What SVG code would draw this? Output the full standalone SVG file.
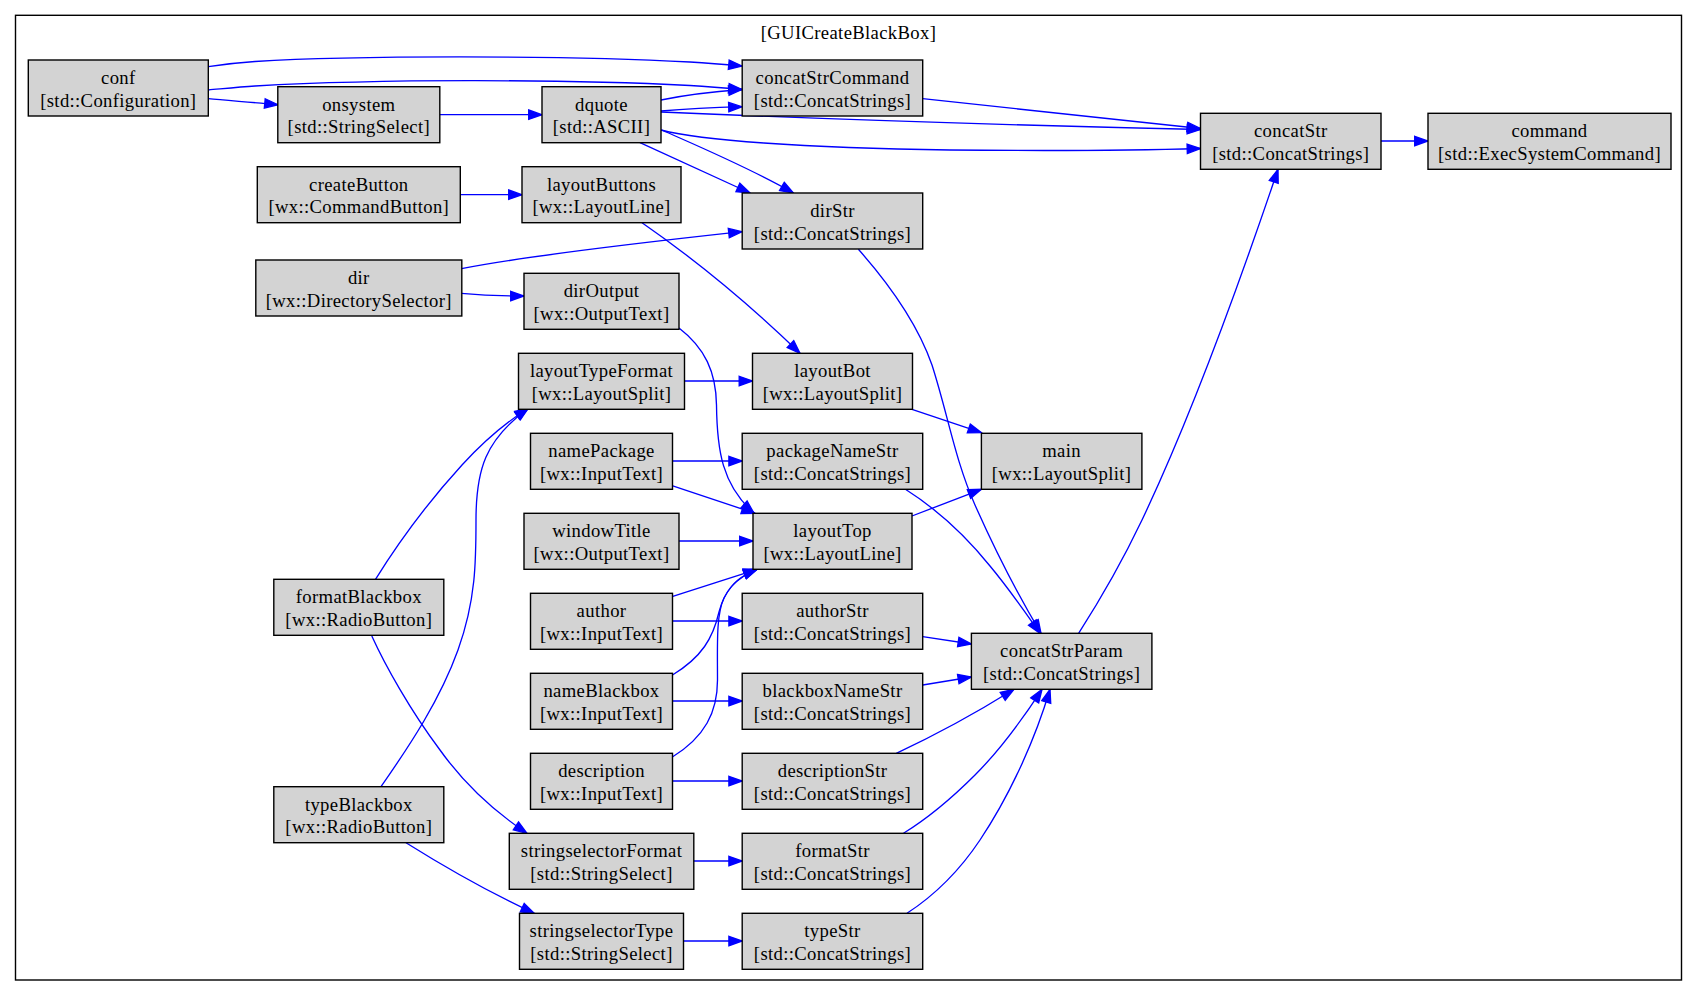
<svg xmlns="http://www.w3.org/2000/svg" width="1699" height="1007" viewBox="0 0 1699 1007">
<style>
.n rect{fill:#d3d3d3;stroke:#000;stroke-width:1.4}
text{font-family:"Liberation Serif","Times New Roman",serif;font-size:18.67px;fill:#000;text-anchor:middle;letter-spacing:0.35px}
.e path{fill:none;stroke:#0000ff;stroke-width:1.33;marker-end:url(#ah)}
</style>
<defs>
<marker id="ah" markerWidth="15" markerHeight="11" refX="13.3" refY="4.7" orient="auto" markerUnits="userSpaceOnUse" overflow="visible">
<path d="M0,0 L13.3,4.7 L0,9.4 z" fill="#0000ff" stroke="#0000ff" stroke-width="1.33"/>
</marker>
</defs>
<rect x="0" y="0" width="1699" height="1007" fill="#fff"/>
<g id="cluster">
<rect x="15.5" y="15.3" width="1666" height="964.7" fill="none" stroke="#000" stroke-width="1.4"/>
<text x="848.5" y="38.5">[GUICreateBlackBox]</text>
</g>
<g class="e" id="edges">
<path d="M208.3,66.7 C225,64 240,62.5 255,61.5 C350,55.5 560,55 690,62 C708,63 726,64.5 742,66"/>
<path d="M208.3,90 C225,88.5 240,87 255,86 C380,79 560,79 690,85.5 C708,86.5 726,88 742,89.5"/>
<path d="M208.3,98.7 C225,100.5 250,102 278,104.7"/>
<path d="M440,114.7 L542,114.7"/>
<path d="M661,100 C685,95 715,91.5 742,89.5"/>
<path d="M661,111 C685,109 715,107.5 742,106.7"/>
<path d="M661,112 C800,118 1000,125 1200.5,129.5"/>
<path d="M922.7,98.7 L1200.5,128.5"/>
<path d="M661,130 C700,140 800,148 950,150 C1050,151 1150,150 1200.5,148.5"/>
<path d="M640,142.7 L750,193"/>
<path d="M661.7,130 C700,147 750,168 793.4,193"/>
<path d="M460,194.7 L522,194.7"/>
<path d="M461.5,268.7 C520,257 620,245 742,231.7"/>
<path d="M461.5,293.3 C480,295 500,296 524,296"/>
<path d="M642,222.7 C690,256 745,300 800,353.3"/>
<path d="M679,328 C705,348 716,372 716.5,405 C717,450 722,485 754,513.3"/>
<path d="M684.5,381 L752.5,381"/>
<path d="M912,409.3 L981.4,432.7"/>
<path d="M672,461 L742.2,461"/>
<path d="M672,485.7 L755,513.3"/>
<path d="M679,541 L753,541"/>
<path d="M672,596.7 L757,569.3"/>
<path d="M672,621 L742.2,621"/>
<path d="M912,516 L981.4,489.3"/>
<path d="M672.5,675 C702,657 713,638 719,612 C724,592 735,578 757,569.3"/>
<path d="M672,757.3 C705,737 717.5,712 717.5,680 C717.5,645 716,615 724,598 C732,582 743,575 757,569.3"/>
<path d="M672,701 L742.2,701"/>
<path d="M672,781 L742.2,781"/>
<path d="M693.5,861 L742.2,861"/>
<path d="M684,941 L742.2,941"/>
<path d="M905.4,489.3 C935,508 965,535 990,566 C1010,590 1025,612 1040,633.3"/>
<path d="M858.4,249.3 C890,285 918,325 932,365 C948,415 955,460 975,505 C995,550 1018,595 1041,633.3"/>
<path d="M922.7,636.7 L971.4,644"/>
<path d="M922.7,685 L971.4,677"/>
<path d="M896.3,753.3 C925,740 960,723 1014,689.3"/>
<path d="M903.5,833.3 C925,820 950,800 975,775 C1000,750 1022,720 1042,689.3"/>
<path d="M907,913.3 C935,895 960,870 980,840 C1010,795 1035,740 1050,689.3"/>
<path d="M1078.6,633.3 C1100,600 1122,562 1142,520 C1180,440 1222,335 1278,169.3"/>
<path d="M1381,141 L1428,141"/>
<path d="M375.5,579.3 C400,540 430,500 462,465 C485,440 505,423 528.3,408.3"/>
<path d="M381,786.7 C410,745 440,700 458,650 C476,600 476,560 476,520 C476,470 485,440 528.3,408.3"/>
<path d="M371.8,636 C385,665 410,710 440,750 C465,785 495,812 527,833.3"/>
<path d="M406,842.7 C440,864 480,888 534.3,913.3"/>
</g>
<g class="n" id="conf"><rect x="28.3" y="60" width="180" height="56"/><text x="118.3" y="84">conf</text><text x="118.3" y="106.5">[std::Configuration]</text></g>
<g class="n" id="onsystem"><rect x="277.8" y="86.7" width="162" height="56"/><text x="358.8" y="110.7">onsystem</text><text x="358.8" y="133.2">[std::StringSelect]</text></g>
<g class="n" id="dquote"><rect x="542" y="86.7" width="119" height="56"/><text x="601.5" y="110.7">dquote</text><text x="601.5" y="133.2">[std::ASCII]</text></g>
<g class="n" id="concatStrCommand"><rect x="742.2" y="60" width="180.5" height="56"/><text x="832.5" y="84">concatStrCommand</text><text x="832.5" y="106.5">[std::ConcatStrings]</text></g>
<g class="n" id="concatStr"><rect x="1200.5" y="113.3" width="180.5" height="56"/><text x="1290.8" y="137.3">concatStr</text><text x="1290.8" y="159.8">[std::ConcatStrings]</text></g>
<g class="n" id="command"><rect x="1428" y="113.3" width="243" height="56"/><text x="1549.5" y="137.3">command</text><text x="1549.5" y="159.8">[std::ExecSystemCommand]</text></g>
<g class="n" id="createButton"><rect x="257.3" y="166.7" width="203" height="56"/><text x="358.8" y="190.7">createButton</text><text x="358.8" y="213.2">[wx::CommandButton]</text></g>
<g class="n" id="layoutButtons"><rect x="522" y="166.7" width="159" height="56"/><text x="601.5" y="190.7">layoutButtons</text><text x="601.5" y="213.2">[wx::LayoutLine]</text></g>
<g class="n" id="dirStr"><rect x="742.2" y="193" width="180.5" height="56"/><text x="832.5" y="217">dirStr</text><text x="832.5" y="239.5">[std::ConcatStrings]</text></g>
<g class="n" id="dir"><rect x="255.8" y="260" width="206" height="56"/><text x="358.8" y="284">dir</text><text x="358.8" y="306.5">[wx::DirectorySelector]</text></g>
<g class="n" id="dirOutput"><rect x="524" y="273.3" width="155" height="56"/><text x="601.5" y="297.3">dirOutput</text><text x="601.5" y="319.8">[wx::OutputText]</text></g>
<g class="n" id="layoutTypeFormat"><rect x="518.5" y="353.3" width="166" height="56"/><text x="601.5" y="377.3">layoutTypeFormat</text><text x="601.5" y="399.8">[wx::LayoutSplit]</text></g>
<g class="n" id="layoutBot"><rect x="752.5" y="353.3" width="160" height="56"/><text x="832.5" y="377.3">layoutBot</text><text x="832.5" y="399.8">[wx::LayoutSplit]</text></g>
<g class="n" id="namePackage"><rect x="530.5" y="433.3" width="142" height="56"/><text x="601.5" y="457.3">namePackage</text><text x="601.5" y="479.8">[wx::InputText]</text></g>
<g class="n" id="packageNameStr"><rect x="742.2" y="433.3" width="180.5" height="56"/><text x="832.5" y="457.3">packageNameStr</text><text x="832.5" y="479.8">[std::ConcatStrings]</text></g>
<g class="n" id="main"><rect x="981.4" y="433.3" width="160.5" height="56"/><text x="1061.6" y="457.3">main</text><text x="1061.6" y="479.8">[wx::LayoutSplit]</text></g>
<g class="n" id="windowTitle"><rect x="524" y="513.3" width="155" height="56"/><text x="601.5" y="537.3">windowTitle</text><text x="601.5" y="559.8">[wx::OutputText]</text></g>
<g class="n" id="layoutTop"><rect x="753" y="513.3" width="159" height="56"/><text x="832.5" y="537.3">layoutTop</text><text x="832.5" y="559.8">[wx::LayoutLine]</text></g>
<g class="n" id="formatBlackbox"><rect x="273.8" y="579.3" width="170" height="56"/><text x="358.8" y="603.3">formatBlackbox</text><text x="358.8" y="625.8">[wx::RadioButton]</text></g>
<g class="n" id="author"><rect x="530.5" y="593.3" width="142" height="56"/><text x="601.5" y="617.3">author</text><text x="601.5" y="639.8">[wx::InputText]</text></g>
<g class="n" id="authorStr"><rect x="742.2" y="593.3" width="180.5" height="56"/><text x="832.5" y="617.3">authorStr</text><text x="832.5" y="639.8">[std::ConcatStrings]</text></g>
<g class="n" id="concatStrParam"><rect x="971.4" y="633.3" width="180.5" height="56"/><text x="1061.6" y="657.3">concatStrParam</text><text x="1061.6" y="679.8">[std::ConcatStrings]</text></g>
<g class="n" id="nameBlackbox"><rect x="530.5" y="673.3" width="142" height="56"/><text x="601.5" y="697.3">nameBlackbox</text><text x="601.5" y="719.8">[wx::InputText]</text></g>
<g class="n" id="blackboxNameStr"><rect x="742.2" y="673.3" width="180.5" height="56"/><text x="832.5" y="697.3">blackboxNameStr</text><text x="832.5" y="719.8">[std::ConcatStrings]</text></g>
<g class="n" id="description"><rect x="530.5" y="753.3" width="142" height="56"/><text x="601.5" y="777.3">description</text><text x="601.5" y="799.8">[wx::InputText]</text></g>
<g class="n" id="descriptionStr"><rect x="742.2" y="753.3" width="180.5" height="56"/><text x="832.5" y="777.3">descriptionStr</text><text x="832.5" y="799.8">[std::ConcatStrings]</text></g>
<g class="n" id="typeBlackbox"><rect x="273.8" y="786.7" width="170" height="56"/><text x="358.8" y="810.7">typeBlackbox</text><text x="358.8" y="833.2">[wx::RadioButton]</text></g>
<g class="n" id="stringselectorFormat"><rect x="509.3" y="833.3" width="184.5" height="56"/><text x="601.5" y="857.3">stringselectorFormat</text><text x="601.5" y="879.8">[std::StringSelect]</text></g>
<g class="n" id="formatStr"><rect x="742.2" y="833.3" width="180.5" height="56"/><text x="832.5" y="857.3">formatStr</text><text x="832.5" y="879.8">[std::ConcatStrings]</text></g>
<g class="n" id="stringselectorType"><rect x="519.5" y="913.3" width="164" height="56"/><text x="601.5" y="937.3">stringselectorType</text><text x="601.5" y="959.8">[std::StringSelect]</text></g>
<g class="n" id="typeStr"><rect x="742.2" y="913.3" width="180.5" height="56"/><text x="832.5" y="937.3">typeStr</text><text x="832.5" y="959.8">[std::ConcatStrings]</text></g>
</svg>
